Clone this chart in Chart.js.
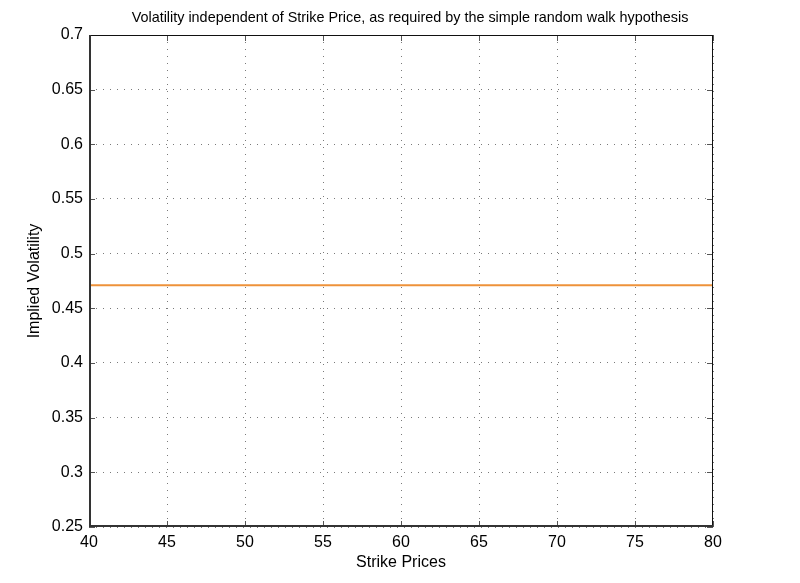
<!DOCTYPE html>
<html>
<head>
<meta charset="utf-8">
<script src="https://cdn.jsdelivr.net/npm/chart.js@4"></script>
<style>
  html, body { margin: 0; padding: 0; background: #fff; }
  #wrap { width: 800px; height: 583px; }
</style>
</head>
<body>
<div id="wrap"><canvas id="chart" width="800" height="583"></canvas></div>
<script>
// data
var strikes = [40, 45, 50, 55, 60, 65, 70, 75, 80];
var volatility = [0.471, 0.471, 0.471, 0.471, 0.471, 0.471, 0.471, 0.471, 0.471];
var xTicks = [40, 45, 50, 55, 60, 65, 70, 75, 80];
var yTicks = [0.25, 0.3, 0.35, 0.4, 0.45, 0.5, 0.55, 0.6, 0.65, 0.7];
var titleText = 'Volatility independent of Strike Price, as required by the simple random walk hypothesis';

var points = strikes.map(function (s, i) { return { x: s, y: volatility[i] }; });

var font = 'Arial, "Liberation Sans", Helvetica, sans-serif';

// box frame with inward ticks, matlab style, plus the title
var frame = {
  id: 'frame',
  afterDraw: function (chart) {
    var c = chart.ctx, a = chart.chartArea;
    var xs = chart.scales.x, ys = chart.scales.y;
    c.save();
    c.strokeStyle = '#555';
    c.beginPath();
    xTicks.forEach(function (t) {
      var px = Math.round(xs.getPixelForValue(t)) + 0.5;
      c.moveTo(px, a.bottom); c.lineTo(px, a.bottom - 6);
      c.moveTo(px, a.top); c.lineTo(px, a.top + 6);
    });
    yTicks.forEach(function (t) {
      var py = Math.round(ys.getPixelForValue(t)) + 0.5;
      c.moveTo(a.left, py); c.lineTo(a.left + 6, py);
      c.moveTo(a.right, py); c.lineTo(a.right - 6, py);
    });
    c.stroke();
    c.strokeStyle = '#111';
    c.lineWidth = 1;
    c.strokeRect(a.left + 0.5, a.top + 0.5, a.right - a.left - 1, a.bottom - a.top - 1);
    c.lineWidth = 2;
    c.strokeStyle = '#333';
    c.beginPath();
    c.moveTo(a.left + 1, a.top); c.lineTo(a.left + 1, a.bottom - 1); c.lineTo(a.right, a.bottom - 1);
    c.stroke();

    c.fillStyle = '#000';
    c.font = '14.4px ' + font;
    c.textAlign = 'center';
    c.textBaseline = 'middle';
    c.fillText(titleText, 410, 18);
    c.restore();
  }
};

Chart.defaults.font.family = font;
Chart.defaults.color = '#000';

var ctx = document.getElementById('chart').getContext('2d');
var myChart = new Chart(ctx, {
  type: 'scatter',
  data: {
    datasets: [{
      label: 'Implied Volatility',
      data: points,
      showLine: true,
      borderColor: 'rgb(238, 146, 58)',
      backgroundColor: 'rgb(238, 146, 58)',
      borderWidth: 2,
      pointRadius: 0
    }]
  },
  options: {
    responsive: false,
    animation: false,
    layout: { padding: { left: 0, right: 87, top: 35, bottom: 0 } },
    plugins: {
      legend: { display: false },
      tooltip: { enabled: false },
      title: { display: false }
    },
    scales: {
      x: {
        type: 'linear',
        min: 40,
        max: 80,
        afterBuildTicks: function (s) { s.ticks = xTicks.map(function (v) { return { value: v }; }); },
        afterFit: function (s) { s.height = 56; },
        ticks: { font: { size: 16 }, padding: 6, color: '#000', maxRotation: 0 },
        grid: { color: '#7a7a7a', drawTicks: false, tickLength: 0 },
        border: { display: false, dash: [1, 6] },
        title: { display: true, text: 'Strike Prices', font: { size: 16 }, padding: { top: 0, bottom: 11 } }
      },
      y: {
        type: 'linear',
        min: 0.25,
        max: 0.7,
        afterBuildTicks: function (s) { s.ticks = yTicks.map(function (v) { return { value: v }; }); },
        afterFit: function (s) { s.width = 89; },
        ticks: {
          font: { size: 16 },
          padding: 6,
          color: '#000',
          callback: function (v) { return String(+v.toFixed(2)); }
        },
        grid: { color: '#7a7a7a', drawTicks: false, tickLength: 0 },
        border: { display: false, dash: [1, 6] },
        title: { display: true, text: 'Implied Volatility', font: { size: 16 }, padding: { top: 25, bottom: 0 } }
      }
    }
  },
  plugins: [frame]
});
</script>
</body>
</html>
